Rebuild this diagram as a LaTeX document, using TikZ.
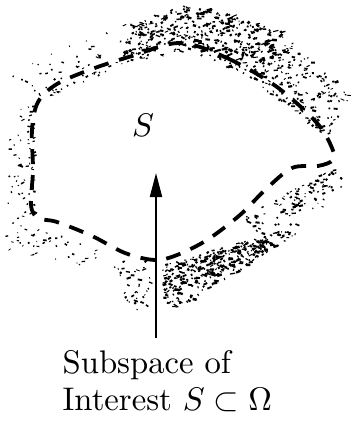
\documentclass[tikz,border=0pt]{standalone}
\usetikzlibrary{calc,arrows.meta}
% #1 count, #2-#5 quad corners (inner start, inner end, outer end, outer start), #6 fade exponent, #7 mark size factor
\newcommand\myspeckle[7]{%
  \coordinate (qa) at #2; \coordinate (qb) at #3;
  \coordinate (qc) at #4; \coordinate (qd) at #5;
  \foreach \k in {1,...,#1}{%
    \pgfmathsetmacro\myt{rnd}%
    \pgfmathsetmacro\mys{rnd^#6}%
    \pgfmathsetmacro\mydx{#7*(0.8+3.6*rnd^2)}%
    \pgfmathsetmacro\mydy{#7*1.8*rand}%
    \pgfmathsetmacro\mylw{#7*(0.8+1.4*rnd)}%
    \path ($(qa)!\myt!(qb)$) coordinate (pa) ($(qd)!\myt!(qc)$) coordinate (pb);
    \draw[line width=\mylw pt] ($(pa)!\mys!(pb)$) -- ++(\mydx,\mydy);
  }}
\tikzset{
  boundary/.style={line width=3.8pt, dash pattern=on 15pt off 11pt, line cap=butt},
  pointer/.style={line width=2pt, -{Triangle[length=24pt,width=12pt]}},
  lbl/.style={inner sep=0pt, font=\fontsize{10}{12}\selectfont, scale=3.27, transform shape}
}
\begin{document}
\begin{tikzpicture}[x=1pt,y=-1pt]
\useasboundingbox (0,0) rectangle (351,421);
\pgfmathsetseed{11}
% stippled surroundings
\myspeckle{60}{(40,102)}{(135,58)}{(125,22)}{(6,70)}{1.6}{0.9}
\myspeckle{180}{(120,64)}{(185,50)}{(190,4)}{(130,24)}{1.0}{1.1}
\myspeckle{260}{(185,50)}{(262,82)}{(282,32)}{(195,4)}{1.0}{1.2}
\myspeckle{190}{(250,78)}{(326,138)}{(350,96)}{(282,34)}{1.3}{1.0}
\myspeckle{100}{(334,168)}{(242,218)}{(262,248)}{(348,188)}{1.5}{1.0}
\myspeckle{150}{(160,266)}{(290,228)}{(300,234)}{(160,300)}{1.2}{1.0}
\myspeckle{220}{(162,268)}{(260,240)}{(280,246)}{(162,318)}{1.0}{1.2}
\myspeckle{40}{(112,262)}{(152,262)}{(152,318)}{(125,305)}{1.1}{1.0}
\myspeckle{75}{(34,105)}{(34,250)}{(4,255)}{(10,98)}{1.4}{0.9}
\myspeckle{30}{(40,226)}{(100,252)}{(95,266)}{(8,256)}{1.2}{0.9}
% dashed boundary of S
\draw[boundary] plot[smooth cycle, tension=0.55] coordinates {
 (180,43) (227,58) (277,87) (317,123) (332,148) (333,160) (318,166) (292,168)
 (265,190) (240,215) (207,240) (177,255) (155,260) (125,253) (92,236)
 (57,222) (38,218) (31,205) (33,170) (32,130) (38,102) (57,84) (92,69) (132,56)};
\node[lbl] (s) at (143,125) {$S$};
\coordinate (foot) at (156,338);
\coordinate (tip) at (156,173);
\draw[pointer] (foot) -- (tip);
\node[lbl, anchor=base west] (t1) at (62,373) {Subspace of};
\node[lbl, anchor=base west] (t2) at (62,410) {Interest $S\subset\Omega$};
\end{tikzpicture}
\end{document}
